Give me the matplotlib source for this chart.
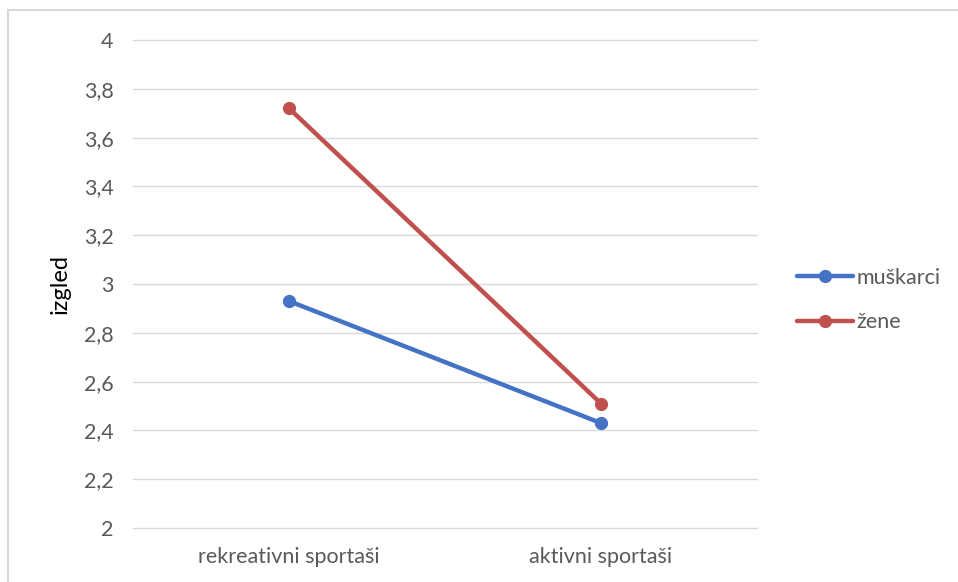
import matplotlib.pyplot as plt
from matplotlib.ticker import FuncFormatter

categories = ["rekreativni sportaši", "aktivni sportaši"]
muskarci = [2.93, 2.43]
zene = [3.72, 2.51]
yticks = [2.0, 2.2, 2.4, 2.6, 2.8, 3.0, 3.2, 3.4, 3.6, 3.8, 4.0]

plt.rcParams["font.family"] = ["Lato", "DejaVu Sans"]
text_col = "#595959"

fig = plt.figure(figsize=(9.58, 5.82), dpi=100)
ax = fig.add_axes([133 / 958, 1 - 528 / 582, 624 / 958, 488 / 582])

# outer chart border (only left and top visible in the crop)
fig.add_artist(plt.Line2D([8 / 958, 8 / 958], [0, 1 - 10 / 582],
                          transform=fig.transFigure, color="#d9d9d9", lw=1.5))
fig.add_artist(plt.Line2D([8 / 958, 1], [1 - 10 / 582, 1 - 10 / 582],
                          transform=fig.transFigure, color="#d9d9d9", lw=1.5))

x = list(range(len(categories)))
ax.plot(x, muskarci, color="#4472C4", lw=3.2, marker="o", ms=8.5,
        label="muškarci", solid_capstyle="round")
ax.plot(x, zene, color="#C0504D", lw=3.2, marker="o", ms=8.5,
        label="žene", solid_capstyle="round")

ax.set_xlim(-0.5, 1.5)
ax.set_ylim(2, 4)
ax.set_yticks(yticks)
ax.yaxis.set_major_formatter(FuncFormatter(lambda v, p: f"{v:g}".replace(".", ",")))
ax.set_xticks(x)
ax.set_xticklabels(categories)
ax.grid(axis="y", color="#d9d9d9", lw=1)
for gl in ax.get_ygridlines():
    gl.set_clip_on(False)
ax.set_axisbelow(True)
for s in ax.spines.values():
    s.set_visible(False)
ax.tick_params(length=0, labelsize=15.5, colors=text_col, pad=14)
ax.tick_params(axis="y", pad=14)
ax.set_ylabel("izgled", fontsize=17, color="black")
ax.yaxis.set_label_coords((71 - 133) / 624, 0.5)

ax.legend(loc="center left", bbox_to_anchor=((797 - 133) / 624, 0.467), frameon=False,
          fontsize=15.5, handlelength=2.6, handletextpad=0.15, labelspacing=1.15,
          labelcolor=text_col, borderpad=0, borderaxespad=0)

fig.savefig("out.png", dpi=100)
